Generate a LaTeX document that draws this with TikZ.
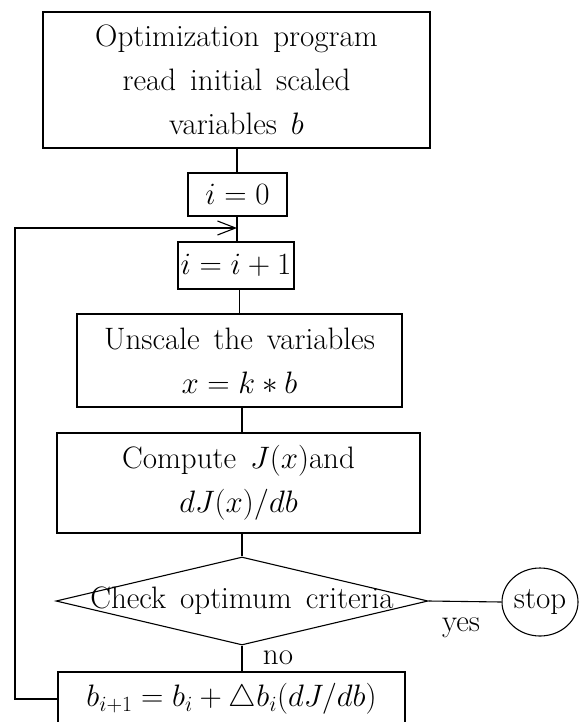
\RequirePackage{fix-cm}
\documentclass[tikz,border=0pt]{standalone}
\usetikzlibrary{shapes.geometric,arrows.meta}

\begin{document}
\begin{tikzpicture}[x=1pt,y=-1pt,
  line width=1.1pt,
  every node/.style={font={\fontsize{31}{44}\selectfont\spaceskip=0.45em plus 0.1em\relax}, inner sep=0pt},
  flowbox/.style={draw, rectangle, align=center},
  decision/.style={draw, diamond, shape aspect=4.23, minimum width=372pt, minimum height=88pt},
  terminal/.style={draw, ellipse, minimum width=76pt, minimum height=68pt},
  looptip/.style={-{Straight Barb[length=18pt,width=14pt]}}
]
\useasboundingbox (0,0) rectangle (579,722);

% process chain
\node[flowbox, minimum width=387pt, minimum height=136pt] (start) at (236.5,80)
  {Optimization program\\read initial scaled\\variables $b$};
\node[flowbox, minimum width=99pt, minimum height=43pt] (init) at (237.5,194.5) {$i=0$};
\coordinate (join) at (237,228);
\node[flowbox, minimum width=116pt, minimum height=47pt] (incr) at (236,265.5) {$i=i+1$};
\node[flowbox, minimum width=325pt, minimum height=93pt] (unscale) at (239.5,360.5)
  {Unscale the variables\\$x=k*b$};
\node[flowbox, minimum width=363pt, minimum height=100pt] (grad) at (238.5,483)
  {Compute $J(x)$and\\$dJ(x)/db$};
\node[decision] (check) at (242,601) {\makebox[0pt]{Check optimum criteria}};
\node[terminal] (stop) at (540,602) {stop};
\node (yes) at (461,628) {yes};
\node (no) at (278,658) {no};
\node[flowbox, minimum width=347pt, minimum height=54pt] (update) at (231.5,699)
  {$b_{i+1}=b_i+\triangle b_i(dJ/db)$};
\coordinate (corner) at (15,228);

% connectors (kept vertical)
\draw (join |- start.south) -- (join |- init.north);
\draw (join |- init.south) -- (join |- incr.north);
\draw (unscale.north |- incr.south) -- (unscale.north);
\draw (check.north |- unscale.south) -- (check.north |- grad.north);
\draw (check.north |- grad.south) -- (check.north);
\draw (check.east) -- (stop.west);
\draw (check.south) -- (check.south |- update.north);
\draw[looptip] (update.west) -| (corner) -- (join);
\end{tikzpicture}
\end{document}
